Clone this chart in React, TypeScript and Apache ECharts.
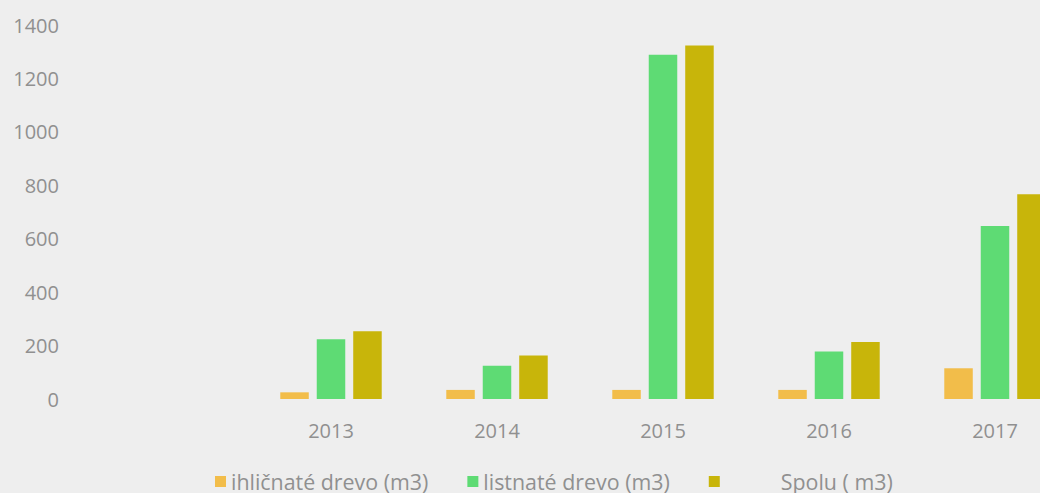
import React, { useEffect, useRef } from "react";
import * as echarts from "echarts";

const categories = ["2013", "2014", "2015", "2016", "2017"];
const ihlicnate = [25, 34, 34, 34, 115];
const listnate = [224, 124, 1289, 178, 648];
const spolu = [254, 163, 1323, 213, 766];
const seriesNames = ["ihličnaté drevo (m3)", "listnaté drevo (m3)", "Spolu ( m3)"];

const FONT = "'Open Sans', 'DejaVu Sans', sans-serif";
const LABEL_COLOR = "#909090";

export default function App() {
  const ref = useRef<HTMLDivElement>(null);
  useEffect(() => {
    if (!ref.current) return;
    const chart = echarts.init(ref.current, undefined, { renderer: "svg" });
    chart.setOption({
      animation: false,
      backgroundColor: "#eeeeee",
      grid: { left: 248, right: 0, top: 25, bottom: 94, containLabel: false },
      xAxis: {
        type: "category",
        data: categories,
        axisLine: { show: false },
        axisTick: { show: false },
        axisLabel: { color: LABEL_COLOR, fontFamily: FONT, fontSize: 20, margin: 21 },
      },
      yAxis: {
        type: "value",
        min: 0,
        max: 1400,
        interval: 200,
        splitLine: { show: false },
        axisLine: { show: false },
        axisTick: { show: false },
        axisLabel: {
          color: LABEL_COLOR,
          fontFamily: FONT,
          fontSize: 20,
          margin: 189,
          formatter: (v: number) => String(v),
        },
      },
      legend: {
        left: 215,
        top: 471,
        padding: 0,
        itemWidth: 11,
        itemHeight: 11,
        itemGap: 39,
        icon: "rect",
        data: seriesNames,
        formatter: (name: string) => (name === "Spolu ( m3)" ? "{g|}" + name : name),
        textStyle: {
          color: LABEL_COLOR,
          fontFamily: FONT,
          fontSize: 21.4,
          rich: { g: { width: 56 } },
        },
      },
      series: [
        {
          name: seriesNames[0],
          type: "bar",
          data: ihlicnate,
          barWidth: 28.5,
          barGap: "28%",
          itemStyle: { color: "#f2bd4a" },
        },
        {
          name: seriesNames[1],
          type: "bar",
          data: listnate,
          barWidth: 28.5,
          barGap: "28%",
          itemStyle: { color: "#5edb74" },
        },
        {
          name: seriesNames[2],
          type: "bar",
          data: spolu,
          barWidth: 28.5,
          barGap: "28%",
          itemStyle: { color: "#c8b50a" },
        },
      ],
    });
    return () => chart.dispose();
  }, []);
  return (
    <div
      style={{ position: "fixed", left: 0, top: 0, width: 1040, height: 493, overflow: "hidden", background: "#eeeeee" }}
    >
      <div ref={ref} style={{ width: 1078, height: 493 }} />
    </div>
  );
}
